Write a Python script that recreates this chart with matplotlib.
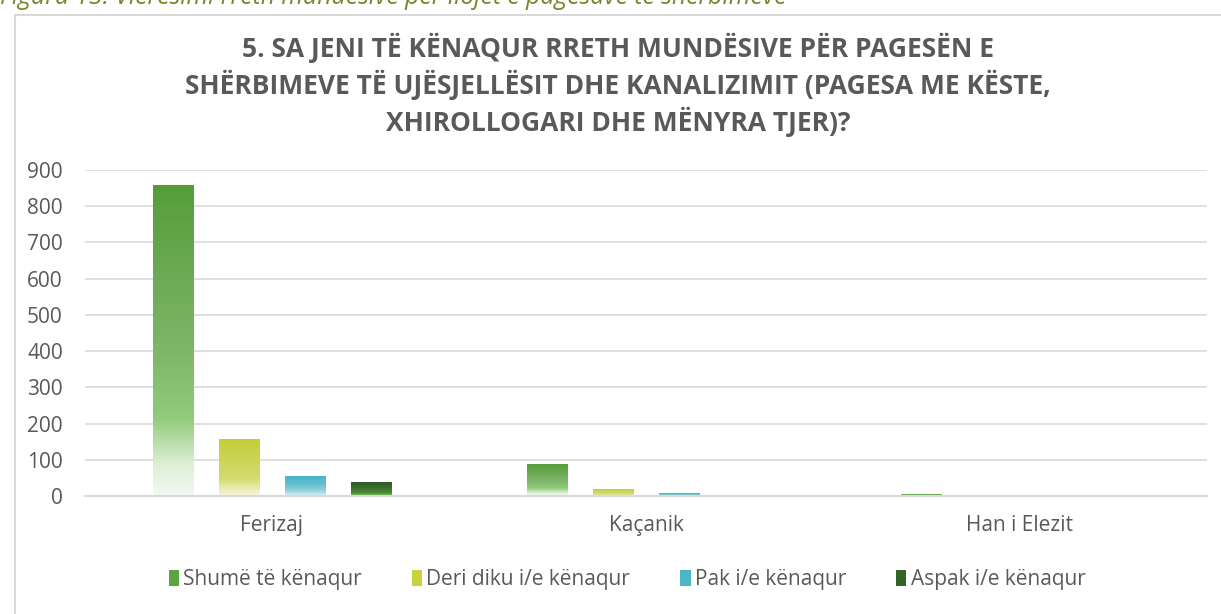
import matplotlib.pyplot as plt
import numpy as np
from matplotlib.colors import LinearSegmentedColormap
from matplotlib.patches import Rectangle, Patch

categories = ['Ferizaj', 'Kaçanik', 'Han i Elezit']
series_names = ['Shumë të kënaqur', 'Deri diku i/e kënaqur', 'Pak i/e kënaqur', 'Aspak i/e kënaqur']
shume = [858, 88, 3]
deri_diku = [157, 19, 0]
pak = [55, 6, 0]
aspak = [36, 1, 0]
yticks = [0, 100, 200, 300, 400, 500, 600, 700, 800, 900]

title = ('5. SA JENI TË KËNAQUR RRETH MUNDËSIVE PËR PAGESËN E\n'
         'SHËRBIMEVE TË UJËSJELLËSIT DHE KANALIZIMIT (PAGESA ME KËSTE,\n'
         'XHIROLLOGARI DHE MËNYRA TJER)?')
caption = 'Figura 13: Vlerësimi rreth mundësive për llojet e pagesave të shërbimeve'

# gradient stops, from bottom (0) to top (1) of each bar
gradients = [
    [(0.0, '#F3F8F1'), (0.1, '#DDEFD6'), (0.25, '#90CC7A'), (0.45, '#7FB86A'), (0.75, '#69A851'), (1.0, '#549E38')],
    [(0.0, '#F6F6E4'), (0.15, '#E6EBA8'), (0.3, '#D3DB72'), (1.0, '#C4CE38')],
    [(0.0, '#DDF0F4'), (0.3, '#8FD0DC'), (0.6, '#62BFCF'), (1.0, '#48B4C6')],
    [(0.0, '#6EC24C'), (0.25, '#4A8A38'), (0.6, '#3A6E2E'), (1.0, '#2E5A24')],
]
legend_colors = ['#5AA53E', '#C8D13F', '#4CB6C7', '#33622A']
text_color = '#595959'
grid_color = '#D9D9D9'

plt.rcParams['font.family'] = ['Open Sans', 'DejaVu Sans']

fig = plt.figure(figsize=(12.21, 6.14), dpi=100)
fig.patch.set_facecolor('white')

# outer chart border
fig.patches.append(Rectangle((15 / 1221, -0.01), 1.02, 1 - 15 / 614 + 0.01,
                             transform=fig.transFigure, fill=False,
                             edgecolor=grid_color, linewidth=1.5))

fig.text(0 / 1221, 1 - 4 / 614, caption, ha='left', va='baseline',
         fontsize=17.8, style='italic', color='#76862A')

fig.text(0.506, 1 - 85 / 614, title, ha='center', va='center',
         fontsize=19, fontweight='bold', color=text_color, linespacing=1.28)

ax = fig.add_axes([85 / 1221, 1 - 496 / 614, (1207 - 85) / 1221, (496 - 170) / 614])

all_series = [shume, deri_diku, pak, aspak]
bar_w = 0.107
step = 0.1765
x = np.arange(len(categories))
grad_img = np.linspace(0, 1, 256).reshape(-1, 1)
for i, vals in enumerate(all_series):
    cmap = LinearSegmentedColormap.from_list(f'g{i}', gradients[i])
    for xi, v in zip(x, vals):
        if v <= 0:
            continue
        left = xi + (i - 1.5) * step - bar_w / 2
        ax.imshow(grad_img, cmap=cmap, origin='lower', aspect='auto',
                  extent=(left, left + bar_w, 0, v), zorder=3, interpolation='bilinear')
ax.set_xlim(-0.5, 2.5)
ax.set_ylim(0, 900)

ax.set_yticks(yticks)
ax.set_xticks(x)
ax.set_xticklabels(categories)
ax.grid(axis='y', color=grid_color, linewidth=1.2)
ax.set_axisbelow(True)
for s in ['top', 'right', 'left']:
    ax.spines[s].set_visible(False)
ax.spines['bottom'].set_color(grid_color)
ax.spines['bottom'].set_linewidth(1.5)
ax.spines['bottom'].set_zorder(4)
ax.tick_params(axis='both', length=0, labelsize=15, labelcolor=text_color)
ax.tick_params(axis='y', pad=16)
ax.tick_params(axis='x', pad=14)

handles = [Patch(facecolor=c, edgecolor='none') for c in legend_colors]
fig.legend(handles, series_names, loc='center', bbox_to_anchor=(627 / 1221, 1 - 580 / 614),
           ncol=4, frameon=False, fontsize=15, handlelength=0.5, handleheight=0.8,
           handletextpad=0.2, columnspacing=2.4, labelcolor=text_color)

fig.savefig('out.png', dpi=100)
